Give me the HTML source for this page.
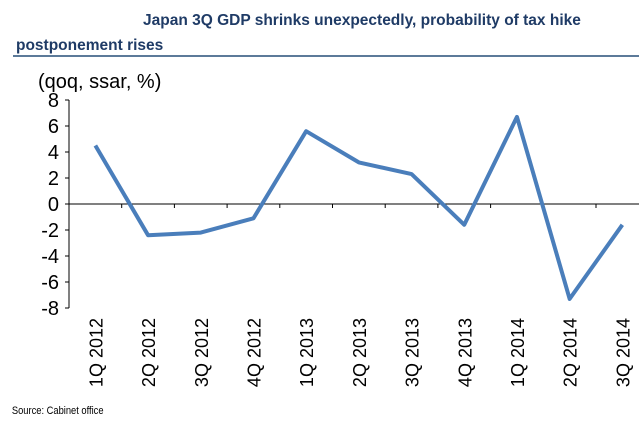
<!DOCTYPE html>
<html><head><meta charset="utf-8"><style>
body{margin:0;background:#fff;width:639px;height:417px;overflow:hidden;font-family:"Liberation Sans",Arial,sans-serif}
</style></head><body>
<svg width="639" height="417" xmlns="http://www.w3.org/2000/svg">
<text x="143" y="25" font-size="15.5" font-weight="bold" fill="#1f3b66">Japan 3Q  GDP shrinks unexpectedly, probability of tax hike</text>
<text x="16" y="50" font-size="15.5" font-weight="bold" fill="#1f3b66">postponement rises</text>
<line x1="13" y1="56" x2="639" y2="56" stroke="#5c7a99" stroke-width="2"/>
<text x="38" y="88" font-size="20" fill="#000">(qoq, ssar, %)</text>
<g id="axes"></g>
<g id="series"></g>
<text x="14" y="414" font-size="11" fill="#000" transform="scale(0.85,1)">Source: Cabinet office</text>
</svg>
<script>
const categories=["1Q 2012","2Q 2012","3Q 2012","4Q 2012","1Q 2013","2Q 2013","3Q 2013","4Q 2013","1Q 2014","2Q 2014","3Q 2014"];
const gdpValues=[4.5,-2.4,-2.2,-1.1,5.6,3.2,2.3,-1.6,6.7,-7.3,-1.6];
const yTicks=[8,6,4,2,0,-2,-4,-6,-8];
const NS="http://www.w3.org/2000/svg";
const axisX=69, step=52.7, y0=204, ppu=13;
function xPos(i){return axisX+step*(i+0.5);}
function yPos(v){return y0-v*ppu;}
const ax=document.getElementById('axes');
function mk(tag,attrs,parent){const e=document.createElementNS(NS,tag);for(const k in attrs)e.setAttribute(k,attrs[k]);parent.appendChild(e);return e;}
let yl=mk('line',{x1:axisX,y1:yPos(8),x2:axisX,y2:yPos(-8),stroke:'#000','stroke-width':1},ax);


let xl=mk('line',{x1:axisX,y1:y0,x2:639,y2:y0,stroke:'#000','stroke-width':1},ax);


yTicks.forEach(v=>{
  const t=mk('line',{x1:axisX-4,y1:yPos(v),x2:axisX,y2:yPos(v),stroke:'#000'},ax);
  
  
  const l=mk('text',{x:axisX-10,y:yPos(v)+7,'font-size':20,'text-anchor':'end',fill:'#000'},ax);
  l.textContent=v;
  
  
});
categories.forEach((c,i)=>{
  const tx=axisX+step*(i+1);
  const t=mk('line',{x1:tx,y1:y0,x2:tx,y2:y0+4,stroke:'#000'},ax);
  
  
  const l=mk('text',{x:0,y:0,'font-size':18,'text-anchor':'end',fill:'#000',transform:`translate(${xPos(i)+7},318) rotate(-90)`},ax);
  l.textContent=c;
  
  
});
const pts=gdpValues.map((v,i)=>xPos(i)+','+yPos(v)).join(' ');
const pl=mk('polyline',{points:pts,fill:'none',stroke:'#4a7ebb','stroke-width':4,'stroke-linejoin':'round'},document.getElementById('series'));


</script>
</body></html>
